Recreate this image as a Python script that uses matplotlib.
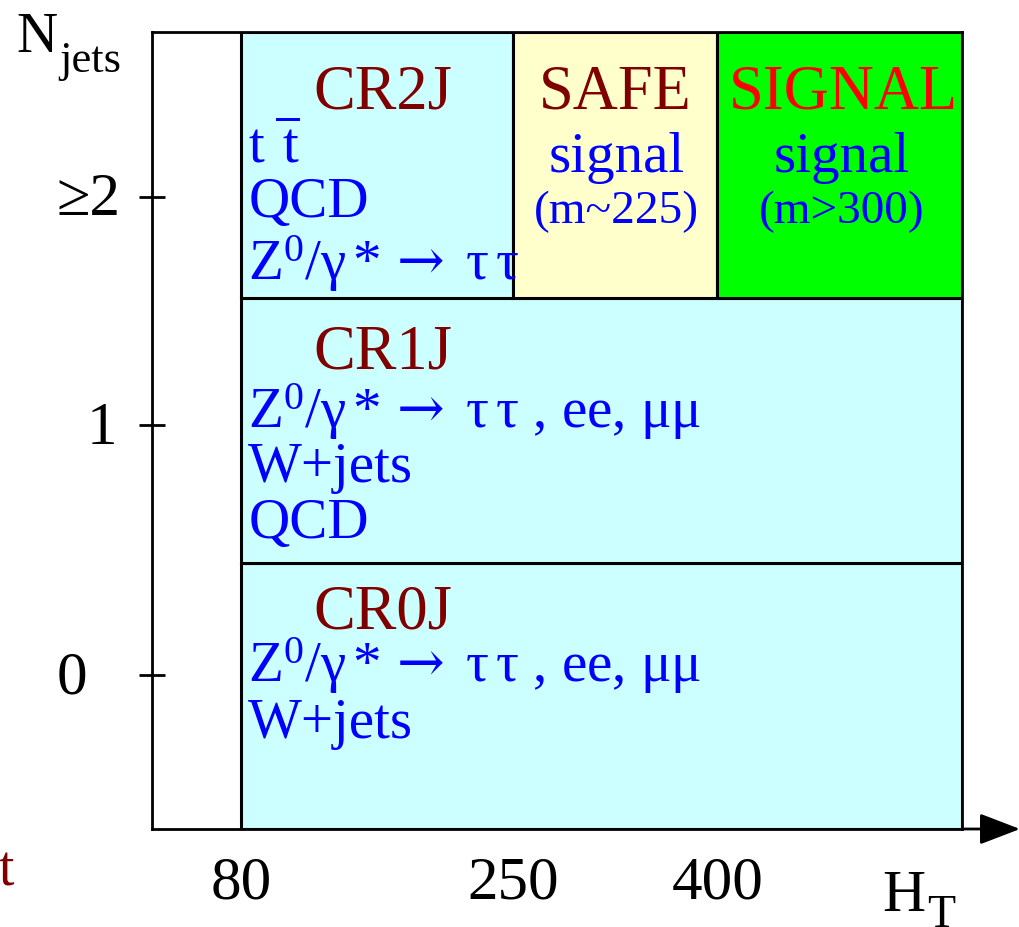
import matplotlib.pyplot as plt
from matplotlib.patches import Rectangle
from matplotlib.transforms import blended_transform_factory

plt.rcParams['font.family'] = ['Liberation Serif', 'DejaVu Serif']
plt.rcParams['mathtext.fontset'] = 'custom'
plt.rcParams['mathtext.rm'] = 'Liberation Serif'
plt.rcParams['mathtext.it'] = 'Liberation Serif:italic'
plt.rcParams['mathtext.sf'] = 'DejaVu Serif'
plt.rcParams['mathtext.default'] = 'rm'

# H_T cuts and where they sit on the schematic horizontal axis
ht_cuts = ["80", "250", "400"]
ht_pos = [1.0, 4.06, 6.35]
ht_end = 9.1

# jet multiplicity rows
njet_labels = ["0", "1", "≥2"]
njet_rows = [0, 1, 2]

# regions: (x from, x to, row, fill colour)
region_names = ["CR0J", "CR1J", "CR2J", "SAFE", "SIGNAL"]
region_x = [(ht_pos[0], ht_end), (ht_pos[0], ht_end), (ht_pos[0], ht_pos[1]),
            (ht_pos[1], ht_pos[2]), (ht_pos[2], ht_end)]
region_row = [0, 1, 2, 2, 2]
region_fill = ["#ccffff", "#ccffff", "#ccffff", "#ffffcc", "#00ff00"]

# process lists per control region
ztt = r"Z$^0$/$\gamma\,$*$\,\mathsf{\rightarrow}\,\,\tau\,\tau$"
zll = ztt + r" , ee, $\mu\mu$"
cr0_lines = [zll, "W+jets"]
cr1_lines = [zll, "W+jets", "QCD"]
cr2_lines = [r"t$\;\overline{\,\mathrm{t}}$", "QCD", ztt]
safe_lines = ["signal", "(m~225)"]
signal_lines = ["signal", "(m>300)"]

darkred = "#800000"
blue = "#0000ff"

fig = plt.figure(figsize=(10.2, 9.28), dpi=100)
ax = fig.add_axes([152 / 1020, 98 / 928, 810 / 1020, 797 / 928])
ax.set_xlim(0, ht_end)
ax.set_ylim(0, 3)

for (x0, x1), r, c in zip(region_x, region_row, region_fill):
    ax.add_patch(Rectangle((x0, r), x1 - x0, 1, facecolor=c,
                           edgecolor="black", lw=2.2, zorder=1))

for s in ax.spines.values():
    s.set_linewidth(2.0)
    s.set_zorder(3)

# x axis: cut values only, no tick marks
ax.set_xticks(ht_pos)
ax.set_xticklabels(ht_cuts, fontsize=44)
ax.tick_params(axis="x", length=0, pad=19)

# y axis: crossing tick marks, labels placed by hand
tick_y = [0.58, 1.52, 2.38]
ax.set_yticks(tick_y)
ax.set_yticklabels([])
ax.tick_params(axis="y", direction="inout", length=19, width=2.0)
lab_x = [-0.099, -0.062, -0.079]
trans = blended_transform_factory(ax.transAxes, ax.transData)
for lx, ty, lab in zip(lab_x, tick_y, njet_labels):
    ax.text(lx, ty - 0.01, lab, transform=trans, ha="center", va="center",
            fontsize=44)

# arrow on the H_T axis
ax.annotate("", xy=(868 / 810, 0), xytext=(1.0, 0),
            xycoords="axes fraction", textcoords="axes fraction",
            arrowprops=dict(arrowstyle="-|>,head_length=1.25,head_width=0.48",
                            mutation_scale=20, lw=2.0, color="black",
                            shrinkA=0, shrinkB=0),
            annotation_clip=False)

# region titles
title_kw = dict(fontsize=45, va="baseline")
ax.text(1.81, 2.717, "CR2J", color=darkred, **title_kw)
ax.text(1.81, 1.739, "CR1J", color=darkred, **title_kw)
ax.text(1.81, 0.760, "CR0J", color=darkred, **title_kw)
ax.text(5.20, 2.717, "SAFE", color=darkred, ha="center", **title_kw)
ax.text(7.77, 2.717, "SIGNAL", color="#ff0000", ha="center", **title_kw)

line_kw = dict(fontsize=41, va="baseline", color=blue)
for y, t in zip([2.510, 2.307, 2.070], cr2_lines):
    ax.text(1.08, y, t, **line_kw)
for y, t in zip([1.513, 1.310, 1.099], cr1_lines):
    ax.text(1.08, y, t, **line_kw)
for y, t in zip([0.557, 0.346], cr0_lines):
    ax.text(1.08, y, t, **line_kw)

for (x, lines) in [(5.22, safe_lines), (7.75, signal_lines)]:
    ax.text(x, 2.476, lines[0], ha="center", **line_kw)
    ax.text(x, 2.285, lines[1], ha="center", fontsize=34, va="baseline",
            color=blue)

# axis titles
fig.text(16 / 1020, 1 - 52 / 928, "N", fontsize=41, va="baseline")
fig.text(59 / 1020, 1 - 72 / 928, "jets", fontsize=32, va="baseline")
fig.text(882 / 1020, 1 - 911 / 928, "H", fontsize=43, va="baseline")
fig.text(927 / 1020, 0.001, "T", fontsize=33, va="baseline")
fig.text(-2 / 1020, 1 - 886 / 928, "t", fontsize=40, va="baseline",
         color=darkred)

fig.savefig("out.png", dpi=100)
